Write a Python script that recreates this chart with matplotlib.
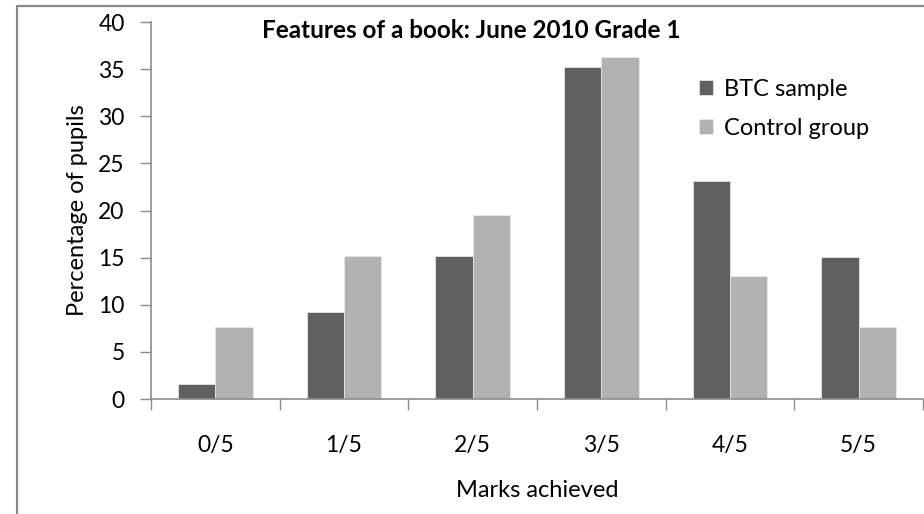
import matplotlib
matplotlib.use("Agg")
import matplotlib.pyplot as plt
import matplotlib.patches as patches
import numpy as np

plt.rcParams['font.family'] = ['Lato', 'DejaVu Sans']

marks = ["0/5", "1/5", "2/5", "3/5", "4/5", "5/5"]
btc_sample = [1.6, 9.2, 15.2, 35.2, 23.1, 15.1]
control_group = [7.6, 15.2, 19.5, 36.3, 13.0, 7.6]

W, H = 924, 514
fig = plt.figure(figsize=(W / 100, H / 100), dpi=100)
ax = fig.add_axes([151 / W, (H - 399) / H, (923 - 151) / W, (399 - 22) / H])

x = np.arange(len(marks))
bw = 0.29
ax.bar(x - bw / 2, btc_sample, bw, color="#606060", edgecolor="#e8e8e8",
       linewidth=0.6, label="BTC sample", zorder=2)
ax.bar(x + bw / 2, control_group, bw, color="#b2b2b2", edgecolor="#e8e8e8",
       linewidth=0.6, label="Control group", zorder=2)

ax.set_xlim(-0.5, len(marks) - 0.5)
ax.set_ylim(0, 40)
ax.set_yticks(range(0, 41, 5))

# category labels sit between tick marks, excel style
ax.set_xticks(x)
ax.set_xticklabels(marks)
ax.set_xticks(np.arange(-0.5, len(marks)), minor=True)
ax.tick_params(axis="x", which="major", length=0, pad=26, labelsize=16.5)
ax.tick_params(axis="x", which="minor", length=8, width=1, color="#8c8c8c")
ax.tick_params(axis="y", length=8, width=1, color="#8c8c8c", pad=11,
               labelsize=16.5)

for side in ["top", "right"]:
    ax.spines[side].set_visible(False)
for side in ["left", "bottom"]:
    ax.spines[side].set_color("#8c8c8c")
    ax.spines[side].set_linewidth(1.2)

ax.set_ylabel("Percentage of pupils", fontsize=17, labelpad=7)
ax.set_xlabel("Marks achieved", fontsize=17, labelpad=17)

fig.text(471 / W, 1 - 31 / H, "Features of a book: June 2010 Grade 1",
         ha="center", va="center", fontsize=17.5, fontweight="bold")

ax.legend(loc="upper left", bbox_to_anchor=(0.682, 0.905), frameon=False,
          fontsize=17, handlelength=0.6, handleheight=0.6,
          handletextpad=0.45, labelspacing=0.75)

# chart area frame
fig.add_artist(patches.Rectangle((17 / W, -0.1), 1.0, (H - 6) / H + 0.1,
                                 transform=fig.transFigure, fill=False,
                                 edgecolor="#8a8a8a", linewidth=1.6,
                                 clip_on=False))

fig.savefig("out.png", dpi=100)
